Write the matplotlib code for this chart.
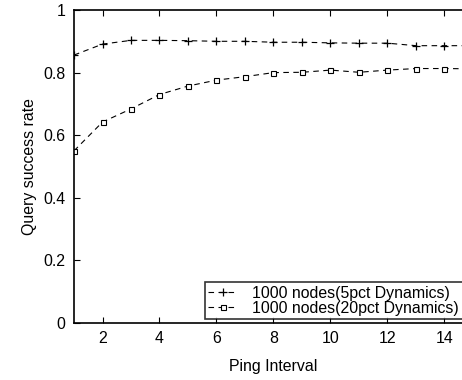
import matplotlib
matplotlib.use('Agg')
import matplotlib.pyplot as plt

# Values
ping_interval = [1, 2, 3, 4, 5, 6, 7, 8, 9, 10, 11, 12, 13, 14, 15]
success_5pct = [0.856, 0.891, 0.903, 0.903, 0.902, 0.900, 0.900, 0.897, 0.897,
                0.895, 0.894, 0.894, 0.886, 0.886, 0.886]
success_20pct = [0.550, 0.642, 0.684, 0.730, 0.757, 0.776, 0.787, 0.800, 0.801,
                 0.808, 0.801, 0.808, 0.813, 0.813, 0.812]

plt.rcParams['font.family'] = ['Liberation Sans', 'DejaVu Sans']
plt.rcParams['font.size'] = 11.4

W, H = 462, 380
fig = plt.figure(figsize=(W / 100, H / 100), dpi=100)
# axes runs past the right edge, as in the cropped original
ax = fig.add_axes([74 / W, 57 / H, 399 / W, 313 / H])

ax.plot(ping_interval, success_5pct, 'k--', marker='+', markersize=5.5,
        markeredgewidth=0.9, linewidth=0.8, dashes=(5, 4),
        label='1000 nodes(5pct Dynamics)')
ax.plot(ping_interval, success_20pct, 'k--', marker='s', markersize=3.6,
        markerfacecolor='white', markeredgewidth=0.8, linewidth=0.8,
        dashes=(5, 4), label='1000 nodes(20pct Dynamics)')

ax.set_xlim(1, 15)
ax.set_ylim(0, 1)
ax.set_xticks([2, 4, 6, 8, 10, 12, 14])
ax.set_yticks([0, 0.2, 0.4, 0.6, 0.8, 1])
ax.set_yticklabels(['0', '0.2', '0.4', '0.6', '0.8', '1'])
ax.tick_params(direction='in', top=True, right=True, length=4, width=0.8, pad=6)
for s in ax.spines.values():
    s.set_linewidth(1.2)

ax.set_xlabel('Ping Interval', labelpad=9)
ax.set_ylabel('Query success rate', labelpad=5)

leg = ax.legend(loc='lower left', bbox_to_anchor=(205 / W, 61 / H),
                bbox_transform=fig.transFigure, frameon=True,
                fancybox=False, edgecolor='black', handlelength=1.85,
                borderpad=0.22, labelspacing=0.0, handletextpad=0.92,
                borderaxespad=0.0, fontsize=11.4)
leg.get_frame().set_linewidth(1.2)

fig.savefig('out.png', dpi=100)
